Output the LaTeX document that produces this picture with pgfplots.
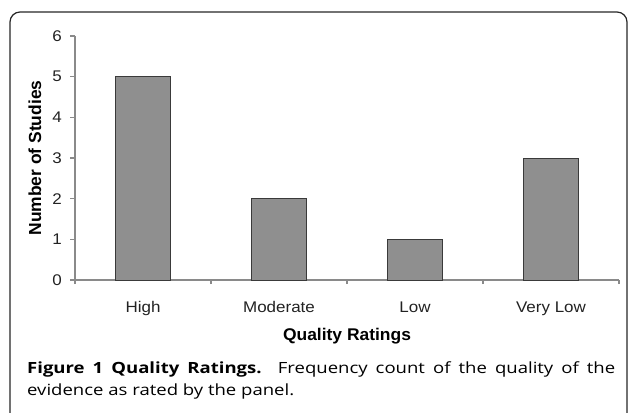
\documentclass[border=0pt]{standalone}
\usepackage{pgfplots}
\pgfplotsset{compat=1.18}
\usepackage{fontspec}
\setmainfont{Liberation Sans}
\newfontfamily\capfont{Open Sans}
\definecolor{barfill}{HTML}{8F8F8F}
\definecolor{baredge}{HTML}{3A3A3A}
\definecolor{axgray}{HTML}{8A8A8A}
\definecolor{txt}{HTML}{222222}
\begin{document}
\begin{tikzpicture}[x=1bp,y=1bp]
\clip (0,0) rectangle (629,412);
\path[use as bounding box] (0,0) rectangle (629,412);
\draw[line width=1.2bp, black!85, rounded corners=10bp] (10,-20) -- (10,400) -- (627,400) -- (627,-20);
\begin{axis}[
  at={(75bp,132bp)}, anchor=origin,
  scale only axis, width=544bp, height=244bp,
  xmin=0, xmax=4, ymin=0, ymax=6,
  axis lines*=left,
  axis line style={axgray, line width=1.6bp},
  every tick/.style={axgray, line width=1.2bp},
  tick align=outside,
  xtick={0.5,1.5,2.5,3.5},
  xticklabels={High,Moderate,Low,Very Low},
  major x tick style={draw=none},
  minor xtick={0,1,2,3,4},
  minor tick length=4bp,
  major tick length=5bp,
  ytick={0,1,2,3,4,5,6},
  ticklabel style={font=\fontsize{15.5}{17}\selectfont, text=txt, xscale=1.1},
  /pgf/number format/assume math mode=true,
  xticklabel style={anchor=base, yshift=-27bp},
  yticklabel style={xshift=-4bp},
  xlabel={\textbf{Quality Ratings}},
  ylabel={\textbf{Number of Studies}},
  xlabel style={font=\fontsize{17}{19}\selectfont, text=black, at={(axis description cs:0.5,0)}, anchor=center, yshift=-56bp, xscale=1.03},
  ylabel style={font=\fontsize{17.5}{19}\selectfont, text=black, at={(axis description cs:0,0.5)}, anchor=center, yshift=40bp},
  clip=false,
]
\addplot[ybar, bar width=54.4bp, fill=barfill, draw=baredge, line width=1bp]
  coordinates {(0.5,5) (1.5,2) (2.5,1) (3.5,3)};
\end{axis}
\node[anchor=base west, inner sep=0pt, font=\capfont\fontsize{15.5}{18}\selectfont] at (27,39)
  {\scalebox{1.2}[1]{\makebox[490bp][s]{\textbf{Figure 1 Quality Ratings.} Frequency count of the quality of the}}};
\node[anchor=base west, inner sep=0pt, font=\capfont\fontsize{15.5}{18}\selectfont] at (27,17)
  {\scalebox{1.2}[1]{evidence as rated by the panel.}};
\end{tikzpicture}
\end{document}
